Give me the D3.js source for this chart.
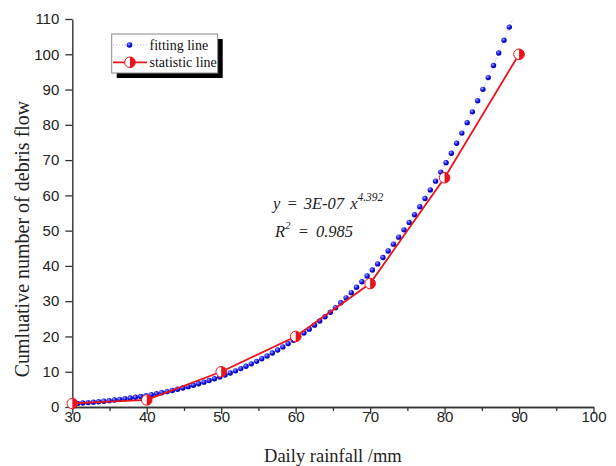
<!DOCTYPE html>
<html><head><meta charset="utf-8">
<script src="https://cdn.jsdelivr.net/npm/d3@7"></script>
<style>body{margin:0;background:#fff}svg{display:block}</style>
</head><body><svg id="c" width="616" height="466"></svg>
<script>
// ---- data ----
const fitX = [30.00,30.71,31.41,32.12,32.83,33.54,34.24,34.95,35.66,36.36,37.07,37.78,38.48,39.19,39.90,40.61,41.31,42.02,42.73,43.43,44.14,44.85,45.56,46.26,46.97,47.68,48.38,49.09,49.80,50.51,51.21,51.92,52.63,53.33,54.04,54.75,55.45,56.16,56.87,57.58,58.28,58.99,59.70,60.40,61.11,61.82,62.53,63.23,63.94,64.65,65.35,66.06,66.77,67.47,68.18,68.89,69.60,70.30,71.01,71.72,72.42,73.13,73.84,74.55,75.25,75.96,76.67,77.37,78.08,78.79,79.49,80.20,80.91,81.62,82.32,83.03,83.74,84.44,85.15,85.86,86.57,87.27,87.98,88.69,89.39];
const fitY = [0.92,1.02,1.13,1.25,1.37,1.50,1.65,1.80,1.97,2.15,2.34,2.54,2.75,2.98,3.23,3.48,3.76,4.05,4.36,4.68,5.03,5.39,5.77,6.18,6.60,7.05,7.52,8.02,8.54,9.08,9.66,10.25,10.88,11.54,12.23,12.94,13.70,14.48,15.30,16.15,17.04,17.97,18.93,19.93,20.98,22.07,23.20,24.37,25.59,26.86,28.17,29.54,30.95,32.42,33.93,35.51,37.14,38.82,40.57,42.37,44.24,46.17,48.16,50.22,52.34,54.53,56.80,59.13,61.55,64.03,66.59,69.24,71.95,74.76,77.65,80.62,83.68,86.83,90.06,93.39,96.83,100.35,103.97,107.70,111.51];
const statX = [30,40,50,60,70,80,90];
const statY = [1,2,10,20,35,65,100];
const xTicks = [30,40,50,60,70,80,90,100];
const xMinor = [35,45,55,65,75,85,95];
const yTicks = [0,10,20,30,40,50,60,70,80,90,100,110];
const xTitle = "Daily rainfall /mm";
const yTitle = "Cumluative number of debris flow";
const legendLabels = ["fitting line","statistic line"];

// ---- drawing ----
const svg = d3.select("#c");
const x = d3.scaleLinear().domain([30,100]).range([72.3,593.5]);
const y = d3.scaleLinear().domain([0,110]).range([407,19]);
const SANS = "'Liberation Sans', Arial, sans-serif";
const SERIF = "'Liberation Serif', 'Times New Roman', serif";
const RED = "#e8141c";

const defs = svg.append("defs");
const g = defs.append("radialGradient").attr("id","ball").attr("cx","38%").attr("cy","35%").attr("r","65%");
g.append("stop").attr("offset","0%").attr("stop-color","#a8a8ff");
g.append("stop").attr("offset","55%").attr("stop-color","#1010f0");
g.append("stop").attr("offset","100%").attr("stop-color","#0000a0");
defs.append("clipPath").attr("id","clip").append("rect")
  .attr("x",x(30)).attr("y",y(110)).attr("width",x(100)-x(30)).attr("height",y(0)-y(110));

function styleAxis(sel){
  sel.selectAll("path.domain").attr("stroke","#333").attr("stroke-width",1.4);
  sel.selectAll(".tick line").attr("stroke","#333").attr("stroke-width",1.3);
  sel.selectAll("text").attr("font-family",SANS).attr("font-size","15px").attr("fill","#222");
}
// x minor
svg.append("g").attr("transform",`translate(0,${y(0)})`)
  .call(d3.axisBottom(x).tickValues(xMinor).tickSize(4).tickSizeOuter(0).tickFormat(""))
  .call(styleAxis);
const xa = svg.append("g").attr("transform",`translate(0,${y(0)})`)
  .call(d3.axisBottom(x).tickValues(xTicks).tickSize(7).tickSizeOuter(0))
  .call(styleAxis);
xa.selectAll("text").attr("y",4.7);
const ya = svg.append("g").attr("transform",`translate(${x(30)},0)`)
  .call(d3.axisLeft(y).tickValues(yTicks).tickSize(7).tickSizeOuter(0).tickPadding(6))
  .call(styleAxis);

// titles
svg.append("text").attr("x",(x(30)+x(100))/2).attr("y",462)
  .attr("text-anchor","middle").attr("font-family",SERIF).attr("font-size","18.5px").attr("fill","#222")
  .text(xTitle);
svg.append("text").attr("transform",`translate(29,${239}) rotate(-90)`)
  .attr("text-anchor","middle").attr("font-family",SERIF).attr("font-size","20px").attr("fill","#222")
  .text(yTitle);

// fitting line
const plot = svg.append("g").attr("clip-path","url(#clip)");
const fit = fitX.map((d,i)=>[d,fitY[i]]);
plot.append("path").datum(fit)
  .attr("d",d3.line().x(d=>x(d[0])).y(d=>y(d[1])))
  .attr("fill","none").attr("stroke","#a9b4ff").attr("stroke-width",1).attr("stroke-dasharray","1,2");
plot.selectAll("circle.fit").data(fit).join("circle").attr("class","fit")
  .attr("cx",d=>x(d[0])).attr("cy",d=>y(d[1])).attr("r",2.7).attr("fill","url(#ball)");

// statistic line
const st = statX.map((d,i)=>[d,statY[i]]);
svg.append("path").datum(st)
  .attr("d",d3.line().x(d=>x(d[0])).y(d=>y(d[1])))
  .attr("fill","none").attr("stroke",RED).attr("stroke-width",1.8);
function halfMarker(sel,r){
  sel.append("circle").attr("r",r).attr("fill","#fff").attr("stroke",RED).attr("stroke-width",1);
  sel.append("path").attr("d",`M0,${-r}A${r},${r} 0 0 1 0,${r}Z`).attr("fill",RED);
}
svg.selectAll("g.sm").data(st).join("g").attr("class","sm")
  .attr("transform",d=>`translate(${x(d[0])},${y(d[1])})`)
  .each(function(){ halfMarker(d3.select(this),5.3); });

// equation
const eq = svg.append("g").attr("font-family",SERIF).attr("font-style","italic").attr("fill","#222");
const t1 = eq.append("text").attr("x",273).attr("y",209).attr("font-size","16.5px").attr("word-spacing","2px");
t1.append("tspan").text("y = 3E-07 x");
t1.append("tspan").attr("dy",-8).attr("font-size","11.5px").text("4.392");
const t2 = eq.append("text").attr("x",275).attr("y",237).attr("font-size","16.5px").attr("word-spacing","3px");
t2.append("tspan").text("R");
t2.append("tspan").attr("dy",-8).attr("font-size","11px").text("2");
t2.append("tspan").attr("dy",8).text(" = 0.985");

// legend
const lg = svg.append("g");
lg.append("rect").attr("x",116.7).attr("y",39).attr("width",106).attr("height",39).attr("fill","#000");
lg.append("rect").attr("x",111.7).attr("y",34).attr("width",106).attr("height",39)
  .attr("fill","#fff").attr("stroke","#888").attr("stroke-width",1);
const rows = [45,62.3];
lg.append("line").attr("x1",113).attr("x2",147).attr("y1",rows[0]).attr("y2",rows[0])
  .attr("stroke","#a9b4ff").attr("stroke-width",1).attr("stroke-dasharray","1,2");
lg.append("circle").attr("cx",129.5).attr("cy",rows[0]).attr("r",2.8).attr("fill","url(#ball)");
lg.append("line").attr("x1",113).attr("x2",147).attr("y1",rows[1]).attr("y2",rows[1])
  .attr("stroke",RED).attr("stroke-width",1.8);
halfMarker(lg.append("g").attr("transform",`translate(130,${rows[1]})`),5.3);
lg.selectAll("text.lt").data(legendLabels).join("text").attr("class","lt")
  .attr("x",149.5).attr("y",(d,i)=>rows[i]).attr("dy","0.35em")
  .attr("font-family",SERIF).attr("font-size","14px").attr("fill","#111").text(d=>d);
</script></body></html>
